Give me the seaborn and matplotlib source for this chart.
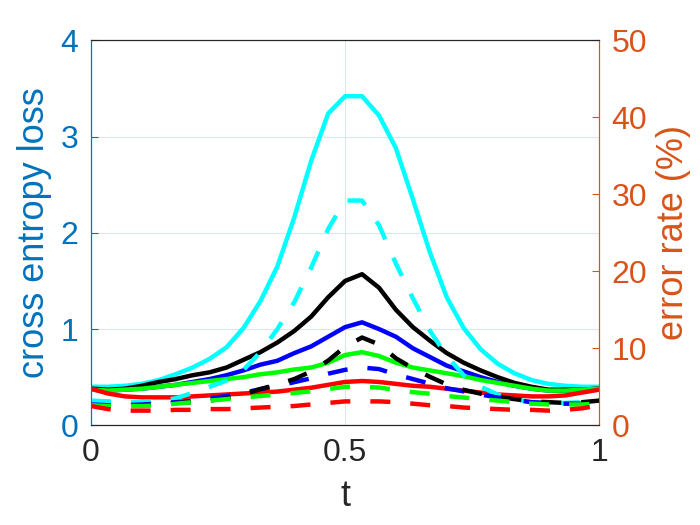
import numpy as np
import pandas as pd
import matplotlib
matplotlib.use('Agg')
import matplotlib.pyplot as plt
import seaborn as sns

# x grid (31 samples between 0 and 1)
t = np.linspace(0, 1, 31)

# cross entropy loss (left axis, solid)
loss_cyan = [0.40, 0.40, 0.41, 0.43, 0.47, 0.53, 0.60, 0.69, 0.81, 1.01, 1.29,
             1.65, 2.16, 2.75, 3.24, 3.42, 3.42, 3.22, 2.88, 2.35, 1.80, 1.33,
             1.01, 0.79, 0.64, 0.54, 0.47, 0.43, 0.41, 0.40, 0.40]
loss_blue = [0.37, 0.36, 0.37, 0.38, 0.40, 0.42, 0.45, 0.48, 0.52, 0.57, 0.63,
             0.67, 0.75, 0.82, 0.92, 1.02, 1.07, 1.00, 0.92, 0.80, 0.71, 0.62,
             0.56, 0.50, 0.45, 0.41, 0.38, 0.36, 0.36, 0.37, 0.38]
loss_black = [0.38, 0.37, 0.38, 0.41, 0.45, 0.48, 0.52, 0.55, 0.60, 0.68, 0.76,
              0.86, 0.98, 1.13, 1.33, 1.50, 1.57, 1.43, 1.20, 1.02, 0.88, 0.75,
              0.65, 0.57, 0.50, 0.44, 0.40, 0.37, 0.37, 0.37, 0.38]
loss_green = [0.37, 0.36, 0.37, 0.38, 0.40, 0.42, 0.44, 0.46, 0.48, 0.50, 0.53,
              0.55, 0.58, 0.60, 0.65, 0.73, 0.76, 0.72, 0.65, 0.60, 0.57, 0.54,
              0.51, 0.47, 0.44, 0.41, 0.38, 0.36, 0.36, 0.37, 0.38]
loss_red = [0.38, 0.33, 0.30, 0.29, 0.29, 0.29, 0.30, 0.31, 0.32, 0.33, 0.34,
            0.35, 0.37, 0.39, 0.42, 0.45, 0.46, 0.45, 0.43, 0.41, 0.40, 0.38,
            0.36, 0.34, 0.32, 0.31, 0.30, 0.30, 0.31, 0.34, 0.37]

# error rate in % (right axis, dashed)
err_cyan = [3.2, 3.1, 3.0, 3.0, 3.1, 3.5, 4.2, 5.0, 5.8, 7.2, 9.5,
            12.5, 16.0, 20.5, 25.5, 29.2, 29.2, 26.0, 21.0, 16.5, 12.3, 9.0,
            6.5, 5.0, 4.0, 3.4, 3.0, 2.9, 2.9, 3.0, 3.1]
err_blue = [2.7, 2.6, 2.6, 2.7, 2.8, 3.0, 3.2, 3.5, 3.8, 4.2, 4.7,
            5.1, 5.6, 6.1, 6.7, 7.2, 7.5, 7.3, 6.6, 6.0, 5.4, 4.8,
            4.4, 4.0, 3.6, 3.3, 3.0, 2.9, 2.8, 2.8, 2.9]
err_black = [2.6, 2.5, 2.5, 2.6, 2.7, 2.9, 3.0, 3.2, 3.5, 4.0, 4.7,
             5.3, 6.0, 7.0, 8.4, 10.2, 11.4, 10.5, 8.7, 7.4, 6.3, 5.3,
             4.6, 4.1, 3.7, 3.4, 3.1, 3.0, 2.9, 3.0, 3.2]
err_green = [2.6, 2.5, 2.5, 2.5, 2.6, 2.8, 3.0, 3.2, 3.4, 3.6, 3.8,
             4.0, 4.2, 4.4, 4.7, 5.0, 5.0, 4.9, 4.6, 4.3, 4.1, 3.8,
             3.6, 3.4, 3.2, 3.0, 2.8, 2.7, 2.7, 2.7, 2.8]
err_red = [2.5, 2.1, 1.9, 1.9, 1.9, 2.0, 2.0, 2.1, 2.1, 2.2, 2.3,
           2.4, 2.5, 2.7, 2.9, 3.1, 3.1, 3.1, 3.0, 2.8, 2.6, 2.5,
           2.3, 2.2, 2.1, 2.0, 2.0, 1.9, 2.0, 2.2, 2.6]

series_colors = ['#00FFFF', '#0000FF', '#000000', '#00FF00', '#FF0000']
loss_all = [loss_cyan, loss_blue, loss_black, loss_green, loss_red]
err_all = [err_cyan, err_blue, err_black, err_green, err_red]

LEFT_C = '#0072BD'
RIGHT_C = '#D95319'
GRID_C = '#dbe5ee'

sns.set_style('white')
plt.rcParams['font.family'] = ['Liberation Sans', 'DejaVu Sans']

fig = plt.figure(figsize=(7, 5.25), dpi=100)
ax = fig.add_axes([0.13, 0.19, 0.726, 0.733])
ax2 = ax.twinx()

for vals, c in zip(loss_all, series_colors):
    df = pd.DataFrame({'t': t, 'v': vals})
    sns.lineplot(data=df, x='t', y='v', ax=ax, color=c, linewidth=3.2)

for vals, c in zip(err_all, series_colors):
    df = pd.DataFrame({'t': t, 'v': vals})
    sns.lineplot(data=df, x='t', y='v', ax=ax2, color=c, linewidth=3.2,
                 linestyle=(0, (4.5, 4.5)))

# axes limits / ticks
ax.set_xlim(0, 1)
ax.set_ylim(0, 4)
ax2.set_ylim(0, 50)
ax.set_xticks([0, 0.5, 1])
ax.set_xticklabels(['0', '0.5', '1'])
ax.set_yticks([0, 1, 2, 3, 4])
ax2.set_yticks([0, 10, 20, 30, 40, 50])

ax.grid(True, color=GRID_C, linewidth=0.8)
ax.set_axisbelow(True)

ax.tick_params(axis='x', direction='in', length=5, labelsize=23,
               colors='#262626', pad=9)
ax.tick_params(axis='y', direction='in', length=5, labelsize=23,
               colors=LEFT_C, pad=9)
ax2.tick_params(axis='y', direction='in', length=5, labelsize=23,
                colors=RIGHT_C, pad=9)

ax.set_xlabel('t', fontsize=26, color='#262626', labelpad=8)
ax.set_ylabel('cross entropy loss', fontsize=26, color=LEFT_C, labelpad=6)
ax2.set_ylabel('error rate (%)', fontsize=26, color=RIGHT_C, labelpad=6)

for a in (ax, ax2):
    a.spines['top'].set_color('#262626')
    a.spines['bottom'].set_color('#262626')
    a.spines['left'].set_color(LEFT_C)
    a.spines['right'].set_color(RIGHT_C)
    for s in a.spines.values():
        s.set_linewidth(0.8)

plt.savefig('out.png', dpi=100)
plt.close()
